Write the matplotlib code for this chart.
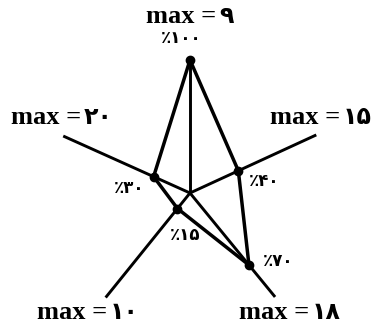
import numpy as np
import matplotlib
matplotlib.use("Agg")
import matplotlib.pyplot as plt

# ---- data ----
max_values = ["۹", "۱۵", "۱۸", "۱۰", "۲۰"]
percent_values = [100, 40, 70, 15, 30]
percent_labels = ["٪۱۰۰", "٪۴۰", "٪۷۰", "٪۱۵", "٪۳۰"]

# ---- layout (pixels / degrees) ----
W, H, DPI = 374, 326, 100
R = 133.0                      # pixel length of 100 %
cx, cy = 190.0, 193.0          # centre (pixels from top-left)
axis_angles = [90, 24.7, -50.7, 231.1, 155.8]
axis_lengths = [1.0, 1.045, 1.01, 1.01, 1.045]
# split point between "max =" and the number, and baseline (pixels)
max_label_pos = [(216, 23), (340, 124), (309, 319), (107, 319), (81, 124)]
pct_offsets = [(-9, -22), (26, 10), (29, -4), (8, 26), (-24, 11)]

fig = plt.figure(figsize=(W / DPI, H / DPI), dpi=DPI)
ax = fig.add_axes([0, 0, 1, 1])
ax.set_xlim(-cx / R, (W - cx) / R)
ax.set_ylim(-(H - cy) / R, cy / R)
ax.axis("off")

ang = np.deg2rad(axis_angles)
# axes
for a, L in zip(ang, axis_lengths):
    ax.plot([0, L * np.cos(a)], [0, L * np.sin(a)], color="black",
            lw=2.1, solid_capstyle="butt")

# data polygon
vals = np.array(percent_values) / 100.0
px = vals * np.cos(ang)
py = vals * np.sin(ang)
ax.plot(np.append(px, px[0]), np.append(py, py[0]), color="black", lw=2.5,
        solid_joinstyle="miter")
ax.plot(px, py, "o", color="black", ms=6)

for val, (x, y) in zip(max_values, max_label_pos):
    X, Y = (x - cx) / R, (cy - y) / R
    ax.text(X, Y, "max =", ha="right", va="baseline", fontsize=19,
            fontweight="bold", family=["Liberation Serif", "DejaVu Sans"])
    ax.text(X + 3 / R, Y, val, ha="left", va="baseline", fontsize=17,
            fontweight="bold", family=["DejaVu Sans"])

for lab, x, y, (dx, dy) in zip(percent_labels, px, py, pct_offsets):
    ax.text(x + dx / R, y - dy / R, lab, ha="center", va="center",
            fontsize=12, fontweight="bold", family=["DejaVu Sans"])

fig.savefig("out.png", dpi=DPI)
